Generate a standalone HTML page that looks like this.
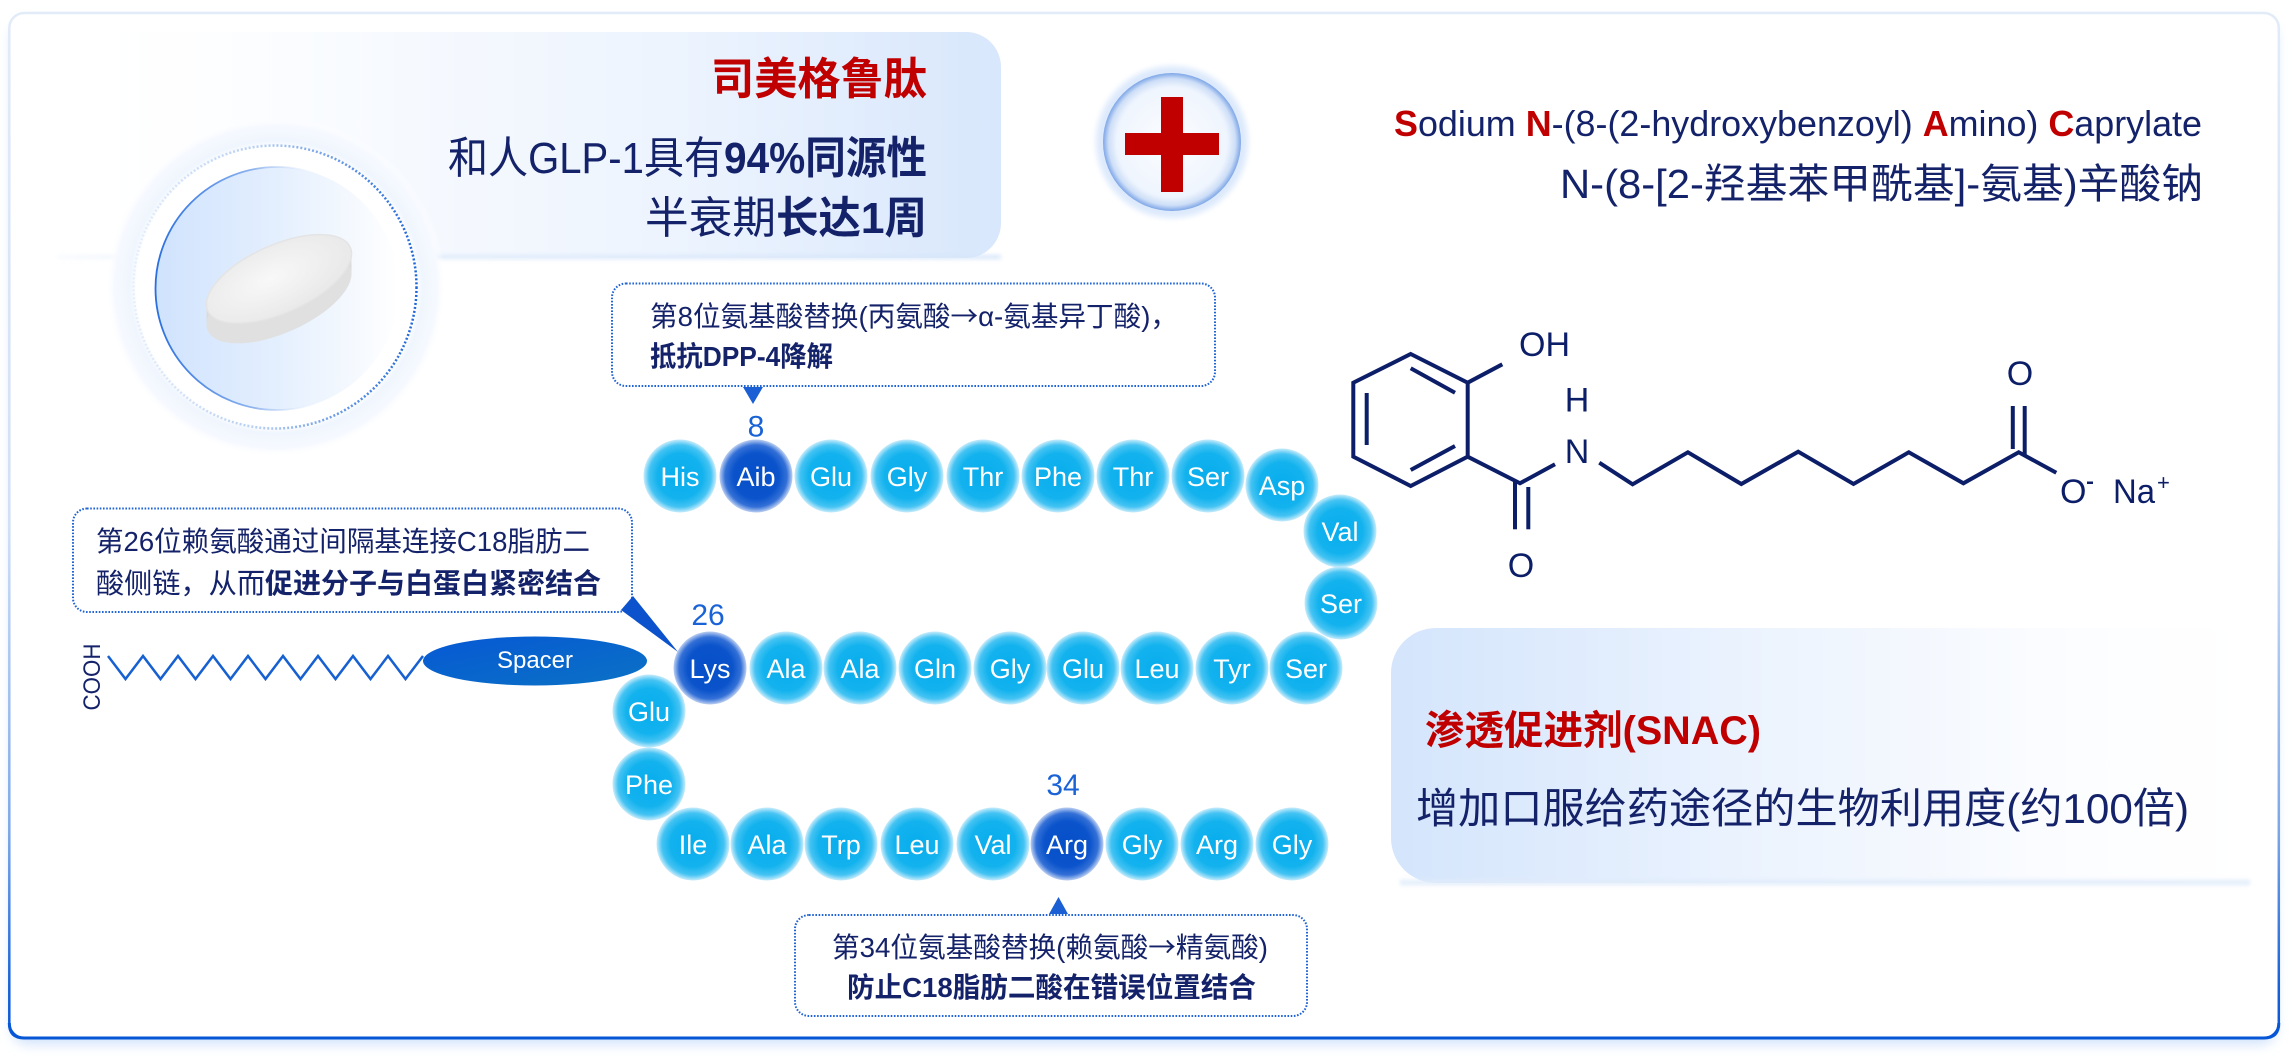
<!DOCTYPE html>
<html><head><meta charset="utf-8">
<style>
html,body{margin:0;padding:0;background:#fff;}
svg{display:block;}
text{font-family:"Liberation Sans","Noto Sans CJK SC",sans-serif;}
.cjk{font-family:"Noto Sans CJK SC",sans-serif;}
</style></head><body>
<svg width="2292" height="1057" viewBox="0 0 2292 1057" xmlns="http://www.w3.org/2000/svg">
<defs>
 <radialGradient id="cy" cx="50%" cy="50%" r="50%">
  <stop offset="0" stop-color="#08adec"/>
  <stop offset="0.62" stop-color="#12b2ee"/>
  <stop offset="0.85" stop-color="#44c3f3"/>
  <stop offset="1" stop-color="#c8ecfb"/>
 </radialGradient>
 <radialGradient id="dk" cx="50%" cy="50%" r="50%">
  <stop offset="0" stop-color="#054fc9"/>
  <stop offset="0.62" stop-color="#0a53cb"/>
  <stop offset="0.85" stop-color="#3370d7"/>
  <stop offset="1" stop-color="#bccff2"/>
 </radialGradient>
 <linearGradient id="cardStroke" x1="0" y1="0" x2="0" y2="1">
  <stop offset="0" stop-color="#e2ebf8"/>
  <stop offset="0.5" stop-color="#cfdff6"/>
  <stop offset="0.8" stop-color="#7aa6e8"/>
  <stop offset="0.95" stop-color="#1561d8"/>
  <stop offset="1" stop-color="#0656d6"/>
 </linearGradient>
 <linearGradient id="titleG" x1="0" y1="0" x2="1" y2="0">
  <stop offset="0" stop-color="#ffffff" stop-opacity="0"/>
  <stop offset="0.25" stop-color="#fafcff"/>
  <stop offset="0.65" stop-color="#edf4fe"/>
  <stop offset="1" stop-color="#d8e7fc"/>
 </linearGradient>
 <linearGradient id="snacG" x1="0" y1="0" x2="1" y2="0">
  <stop offset="0" stop-color="#d4e5fc"/>
  <stop offset="0.45" stop-color="#edf4fe"/>
  <stop offset="0.8" stop-color="#fcfdff"/>
  <stop offset="1" stop-color="#ffffff"/>
 </linearGradient>
 <linearGradient id="lineG" x1="0" y1="0" x2="1" y2="0">
  <stop offset="0" stop-color="#e4eefb" stop-opacity="0.3"/>
  <stop offset="0.2" stop-color="#e1ecfb"/>
  <stop offset="1" stop-color="#d6e5f9"/>
 </linearGradient>
 <radialGradient id="plusG" cx="50%" cy="50%" r="50%">
  <stop offset="0" stop-color="#fcfdff"/>
  <stop offset="0.8" stop-color="#eff5fe"/>
  <stop offset="0.92" stop-color="#cddef7"/>
  <stop offset="1" stop-color="#7ea6e7"/>
 </radialGradient>
 <radialGradient id="glowG" cx="50%" cy="50%" r="50%">
  <stop offset="0" stop-color="#ffffff"/>
  <stop offset="0.82" stop-color="#ffffff"/>
  <stop offset="0.86" stop-color="#f0f6fe"/>
  <stop offset="0.95" stop-color="#f6f9ff"/>
  <stop offset="1" stop-color="#ffffff" stop-opacity="0"/>
 </radialGradient>
 <linearGradient id="diskG" x1="0" y1="0" x2="1" y2="0">
  <stop offset="0" stop-color="#d0e3fd"/>
  <stop offset="0.5" stop-color="#e4effe"/>
  <stop offset="1" stop-color="#ffffff"/>
 </linearGradient>
 <linearGradient id="diskS" x1="0" y1="0" x2="1" y2="0">
  <stop offset="0" stop-color="#2a6fde"/>
  <stop offset="0.4" stop-color="#8db3ee"/>
  <stop offset="0.7" stop-color="#ffffff" stop-opacity="0"/>
 </linearGradient>
 <linearGradient id="ringS" x1="0" y1="0" x2="1" y2="0">
  <stop offset="0" stop-color="#e6effc"/>
  <stop offset="0.45" stop-color="#b4cdf2"/>
  <stop offset="1" stop-color="#1d66d8"/>
 </linearGradient>
 <linearGradient id="spacerG" x1="0" y1="0" x2="1" y2="1">
  <stop offset="0" stop-color="#0658d4"/>
  <stop offset="1" stop-color="#0b72c5"/>
 </linearGradient>
 <radialGradient id="pillTop" cx="45%" cy="45%" r="60%">
  <stop offset="0" stop-color="#f8f8f8"/>
  <stop offset="1" stop-color="#e8e8e8"/>
 </radialGradient>
 <filter id="blur6" x="-10%" y="-10%" width="120%" height="130%"><feGaussianBlur stdDeviation="6"/></filter>
 <filter id="blur2" x="-10%" y="-200%" width="120%" height="500%"><feGaussianBlur stdDeviation="2"/></filter>
 <filter id="blur3" x="-20%" y="-20%" width="140%" height="140%"><feGaussianBlur stdDeviation="3"/></filter>
</defs>

<!-- card -->
<rect x="12" y="22" width="2264" height="1022" rx="16" fill="#cfe1fb" filter="url(#blur6)"/>
<rect x="9.3" y="13" width="2269.5" height="1025" rx="15" fill="#ffffff" stroke="url(#cardStroke)" stroke-width="2.5"/>
<path d="M9.3,1023 Q9.3,1038 24.3,1038 L2263.8,1038 Q2278.8,1038 2278.8,1023" fill="none" stroke="#0656d6" stroke-width="3"/>

<!-- title box -->
<path d="M60,32 H966 A35,35 0 0 1 1001,67 V223 A35,35 0 0 1 966,258 H60 Z" fill="url(#titleG)"/>
<rect x="58" y="255" width="943" height="4" fill="url(#lineG)" filter="url(#blur2)"/>

<!-- disk -->
<circle cx="276" cy="287" r="170" fill="url(#glowG)"/>
<circle cx="275" cy="287" r="141.5" fill="none" stroke="url(#ringS)" stroke-width="2.5" stroke-dasharray="2 2"/>
<circle cx="277" cy="288.5" r="121.5" fill="url(#diskG)" stroke="url(#diskS)" stroke-width="1.8"/>
<!-- pill -->
<g transform="translate(279,279)">
 <ellipse cx="0" cy="4" rx="78" ry="34" transform="rotate(-24 0 4)" fill="#e0e0e0"/>
 <ellipse cx="0" cy="8" rx="78" ry="34" transform="rotate(-24 0 8)" fill="#dedede"/>
 <ellipse cx="0" cy="12" rx="78" ry="34" transform="rotate(-24 0 12)" fill="#dcdcdc"/>
 <ellipse cx="0" cy="16" rx="78" ry="34" transform="rotate(-24 0 16)" fill="#dadada"/>
 <ellipse cx="0" cy="20" rx="78" ry="34" transform="rotate(-24 0 20)" fill="#e0e0e0"/>
 <ellipse cx="0" cy="0" rx="78" ry="34" transform="rotate(-24)" fill="url(#pillTop)" stroke="#e4e4e4" stroke-width="1.5"/>
</g>

<!-- title texts -->
<text x="711" y="94" font-size="44" font-weight="bold" fill="#c00000" textLength="216" lengthAdjust="spacingAndGlyphs">司美格鲁肽</text>
<text x="448" y="173" font-size="44" fill="#14226a" textLength="276" lengthAdjust="spacingAndGlyphs">和人GLP-1具有</text>
<text x="724" y="173" font-size="44" font-weight="bold" fill="#14226a" textLength="203" lengthAdjust="spacingAndGlyphs">94%同源性</text>
<text x="645" y="233" font-size="44" fill="#14226a" textLength="131" lengthAdjust="spacingAndGlyphs">半衰期</text>
<text x="776" y="233" font-size="44" font-weight="bold" fill="#14226a" textLength="151" lengthAdjust="spacingAndGlyphs">长达1周</text>

<!-- plus -->
<circle cx="1172" cy="142" r="76" fill="#dce9fc" filter="url(#blur3)"/>
<circle cx="1172" cy="142" r="69" fill="url(#plusG)"/>
<rect x="1161" y="97" width="22" height="95" fill="#c00000"/>
<rect x="1125" y="133" width="94" height="22" fill="#c00000"/>

<!-- SNAC names -->
<text x="1394" y="136" font-size="36" fill="#14226a" textLength="808" lengthAdjust="spacingAndGlyphs"><tspan fill="#c00000" font-weight="bold">S</tspan>odium <tspan fill="#c00000" font-weight="bold">N</tspan>-(8-(2-hydroxybenzoyl) <tspan fill="#c00000" font-weight="bold">A</tspan>mino) <tspan fill="#c00000" font-weight="bold">C</tspan>aprylate</text>
<text x="1560" y="198" font-size="41" fill="#14226a" textLength="643" lengthAdjust="spacingAndGlyphs">N-(8-[2-羟基苯甲酰基]-氨基)辛酸钠</text>

<!-- chemical structure -->
<g fill="none" stroke="#0c1e68" stroke-width="4" stroke-linejoin="miter" stroke-linecap="butt">
 <polygon points="1410.7,354 1467.7,382.7 1467.7,456.7 1410.7,486 1353.3,456.7 1353.3,382.7"/>
 <line x1="1366.7" y1="393" x2="1366.7" y2="445"/>
 <line x1="1410.7" y1="368.3" x2="1455" y2="392.7"/>
 <line x1="1410.7" y1="470" x2="1455" y2="446"/>
 <line x1="1467.7" y1="382.7" x2="1502.3" y2="364.3"/>
 <polyline points="1467.7,456.7 1520,483.3 1555,464.3"/>
 <line x1="1515" y1="481" x2="1515" y2="529.3"/>
 <line x1="1528.3" y1="487" x2="1528.3" y2="529.3"/>
 <polyline points="1599.3,462.7 1632.6,484.3 1687.9,452.3 1741.3,484 1798.2,451.7 1853.5,484 1908.8,452.3 1963.4,483.3 2018.7,452.3 2056.3,472.7"/>
 <line x1="2012.8" y1="406" x2="2012.8" y2="449"/>
 <line x1="2024.7" y1="406" x2="2024.7" y2="455"/>
</g>
<g fill="#0c1e68" font-size="34">
 <text x="1519" y="356" textLength="51" lengthAdjust="spacingAndGlyphs">OH</text>
 <text x="1577" y="411.7" text-anchor="middle">H</text>
 <text x="1577" y="463" text-anchor="middle">N</text>
 <text x="1521" y="577" text-anchor="middle">O</text>
 <text x="2020" y="385" text-anchor="middle">O</text>
 <text x="2060" y="503">O</text>
 <text x="2113" y="503" textLength="42" lengthAdjust="spacingAndGlyphs">Na</text>
</g>
<rect x="2087" y="481.5" width="6" height="2.5" fill="#0c1e68"/>
<text x="2157" y="490" font-size="22" fill="#0c1e68">+</text>

<!-- SNAC box -->
<path d="M2250,628 H1436 A45,45 0 0 0 1391,673 V838 A45,45 0 0 0 1436,883 H2250 Z" fill="url(#snacG)"/>
<rect x="1400" y="880" width="850" height="5" fill="#e0ebfa" filter="url(#blur2)"/>
<text x="1425" y="744" font-size="40" font-weight="bold" fill="#c00000" textLength="336" lengthAdjust="spacingAndGlyphs">渗透促进剂(SNAC)</text>
<text x="1416" y="823" font-size="42" fill="#14226a" textLength="773" lengthAdjust="spacingAndGlyphs">增加口服给药途径的生物利用度(约100倍)</text>

<!-- callout boxes -->
<g fill="#ffffff" stroke="#1f63d4" stroke-width="2" stroke-dasharray="1.6 1.6">
 <rect x="612" y="283.5" width="603" height="102.5" rx="14"/>
 <rect x="73" y="508.5" width="559" height="103.5" rx="14"/>
 <rect x="795" y="915" width="512" height="101" rx="14"/>
</g>
<polygon points="743,387 763,387 753,404" fill="#1a5fd4"/>
<polygon points="621,610 633,596 678,652" fill="#0b52cc"/>
<polygon points="1049,914 1068,914 1058.5,897" fill="#1a5fd4"/>

<text x="650" y="326" font-size="28" fill="#14226a" textLength="528" lengthAdjust="spacingAndGlyphs">第8位氨基酸替换(丙氨酸<tspan class="cjk">→</tspan>α-氨基异丁酸)，</text>
<text x="650" y="366" font-size="28" font-weight="bold" fill="#14226a" textLength="183" lengthAdjust="spacingAndGlyphs">抵抗DPP-4降解</text>

<text x="96" y="551" font-size="28" fill="#14226a" textLength="494" lengthAdjust="spacingAndGlyphs">第26位赖氨酸通过间隔基连接C18脂肪二</text>
<text x="96" y="593" font-size="28" fill="#14226a" textLength="169" lengthAdjust="spacingAndGlyphs">酸侧链，从而</text>
<text x="265" y="593" font-size="28" font-weight="bold" fill="#14226a" textLength="336" lengthAdjust="spacingAndGlyphs">促进分子与白蛋白紧密结合</text>

<text x="832" y="957" font-size="28" fill="#14226a" textLength="436" lengthAdjust="spacingAndGlyphs">第34位氨基酸替换(赖氨酸<tspan class="cjk">→</tspan>精氨酸)</text>
<text x="847" y="997" font-size="28" font-weight="bold" fill="#14226a" textLength="409" lengthAdjust="spacingAndGlyphs">防止C18脂肪二酸在错误位置结合</text>

<!-- fatty chain -->
<polyline points="108,656 125.5,679 143,656 160.5,679 178,656 195.5,679 213,656 230.5,679 248,656 265.5,679 283,656 300.5,679 318,656 335.5,679 353,656 370.5,679 388,656 405.5,679 423,656" fill="none" stroke="#1660d2" stroke-width="2.5"/>
<text x="100" y="677" font-size="24" fill="#14226a" text-anchor="middle" transform="rotate(-90 100 677)" textLength="67" lengthAdjust="spacingAndGlyphs">COOH</text>
<ellipse cx="535" cy="661" rx="112" ry="24.5" fill="url(#spacerG)"/>
<text x="535" y="668" font-size="24" fill="#ffffff" text-anchor="middle">Spacer</text>

<!-- numbers -->
<g fill="#1a63d6" font-size="30" text-anchor="middle">
 <text x="756" y="436.5">8</text>
 <text x="708" y="625">26</text>
 <text x="1063" y="795">34</text>
</g>

<!-- amino acids -->
<g>
 <ellipse cx="680" cy="476" rx="36.5" ry="36.5" fill="url(#cy)"/>
 <ellipse cx="756" cy="476" rx="36.5" ry="36.5" fill="url(#dk)"/>
 <ellipse cx="831" cy="476" rx="36.5" ry="36.5" fill="url(#cy)"/>
 <ellipse cx="907" cy="476" rx="36.5" ry="36.5" fill="url(#cy)"/>
 <ellipse cx="983" cy="476" rx="36.5" ry="36.5" fill="url(#cy)"/>
 <ellipse cx="1058" cy="476" rx="36.5" ry="36.5" fill="url(#cy)"/>
 <ellipse cx="1133" cy="476" rx="36.5" ry="36.5" fill="url(#cy)"/>
 <ellipse cx="1208" cy="476" rx="36.5" ry="36.5" fill="url(#cy)"/>
 <ellipse cx="1282" cy="485" rx="36.5" ry="36.5" fill="url(#cy)"/>
 <ellipse cx="1340" cy="531" rx="36.5" ry="36.5" fill="url(#cy)"/>
 <ellipse cx="1341" cy="603" rx="36.5" ry="36.5" fill="url(#cy)"/>
 <ellipse cx="1306" cy="668" rx="36.5" ry="36.5" fill="url(#cy)"/>
 <ellipse cx="1232" cy="668" rx="36.5" ry="36.5" fill="url(#cy)"/>
 <ellipse cx="1157" cy="668" rx="36.5" ry="36.5" fill="url(#cy)"/>
 <ellipse cx="1083" cy="668" rx="36.5" ry="36.5" fill="url(#cy)"/>
 <ellipse cx="1010" cy="668" rx="36.5" ry="36.5" fill="url(#cy)"/>
 <ellipse cx="935" cy="668" rx="36.5" ry="36.5" fill="url(#cy)"/>
 <ellipse cx="860" cy="668" rx="36.5" ry="36.5" fill="url(#cy)"/>
 <ellipse cx="786" cy="668" rx="36.5" ry="36.5" fill="url(#cy)"/>
 <ellipse cx="649" cy="711" rx="36.5" ry="36.5" fill="url(#cy)"/>
 <ellipse cx="710" cy="668" rx="36.5" ry="36.5" fill="url(#dk)"/>
 <ellipse cx="649" cy="784" rx="36.5" ry="36.5" fill="url(#cy)"/>
 <ellipse cx="693" cy="844" rx="36.5" ry="36.5" fill="url(#cy)"/>
 <ellipse cx="767" cy="844" rx="36.5" ry="36.5" fill="url(#cy)"/>
 <ellipse cx="841" cy="844" rx="36.5" ry="36.5" fill="url(#cy)"/>
 <ellipse cx="917" cy="844" rx="36.5" ry="36.5" fill="url(#cy)"/>
 <ellipse cx="993" cy="844" rx="36.5" ry="36.5" fill="url(#cy)"/>
 <ellipse cx="1067" cy="844" rx="36.5" ry="36.5" fill="url(#dk)"/>
 <ellipse cx="1142" cy="844" rx="36.5" ry="36.5" fill="url(#cy)"/>
 <ellipse cx="1217" cy="844" rx="36.5" ry="36.5" fill="url(#cy)"/>
 <ellipse cx="1292" cy="844" rx="36.5" ry="36.5" fill="url(#cy)"/>
</g>
<g fill="#ffffff" font-size="27" text-anchor="middle">
 <text x="680" y="486">His</text>
 <text x="756" y="486">Aib</text>
 <text x="831" y="486">Glu</text>
 <text x="907" y="486">Gly</text>
 <text x="983" y="486">Thr</text>
 <text x="1058" y="486">Phe</text>
 <text x="1133" y="486">Thr</text>
 <text x="1208" y="486">Ser</text>
 <text x="1282" y="495">Asp</text>
 <text x="1340" y="541">Val</text>
 <text x="1341" y="613">Ser</text>
 <text x="1306" y="678">Ser</text>
 <text x="1232" y="678">Tyr</text>
 <text x="1157" y="678">Leu</text>
 <text x="1083" y="678">Glu</text>
 <text x="1010" y="678">Gly</text>
 <text x="935" y="678">Gln</text>
 <text x="860" y="678">Ala</text>
 <text x="786" y="678">Ala</text>
 <text x="710" y="678">Lys</text>
 <text x="649" y="721">Glu</text>
 <text x="649" y="794">Phe</text>
 <text x="693" y="854">Ile</text>
 <text x="767" y="854">Ala</text>
 <text x="841" y="854">Trp</text>
 <text x="917" y="854">Leu</text>
 <text x="993" y="854">Val</text>
 <text x="1067" y="854">Arg</text>
 <text x="1142" y="854">Gly</text>
 <text x="1217" y="854">Arg</text>
 <text x="1292" y="854">Gly</text>
</g>
</svg>
</body></html>
